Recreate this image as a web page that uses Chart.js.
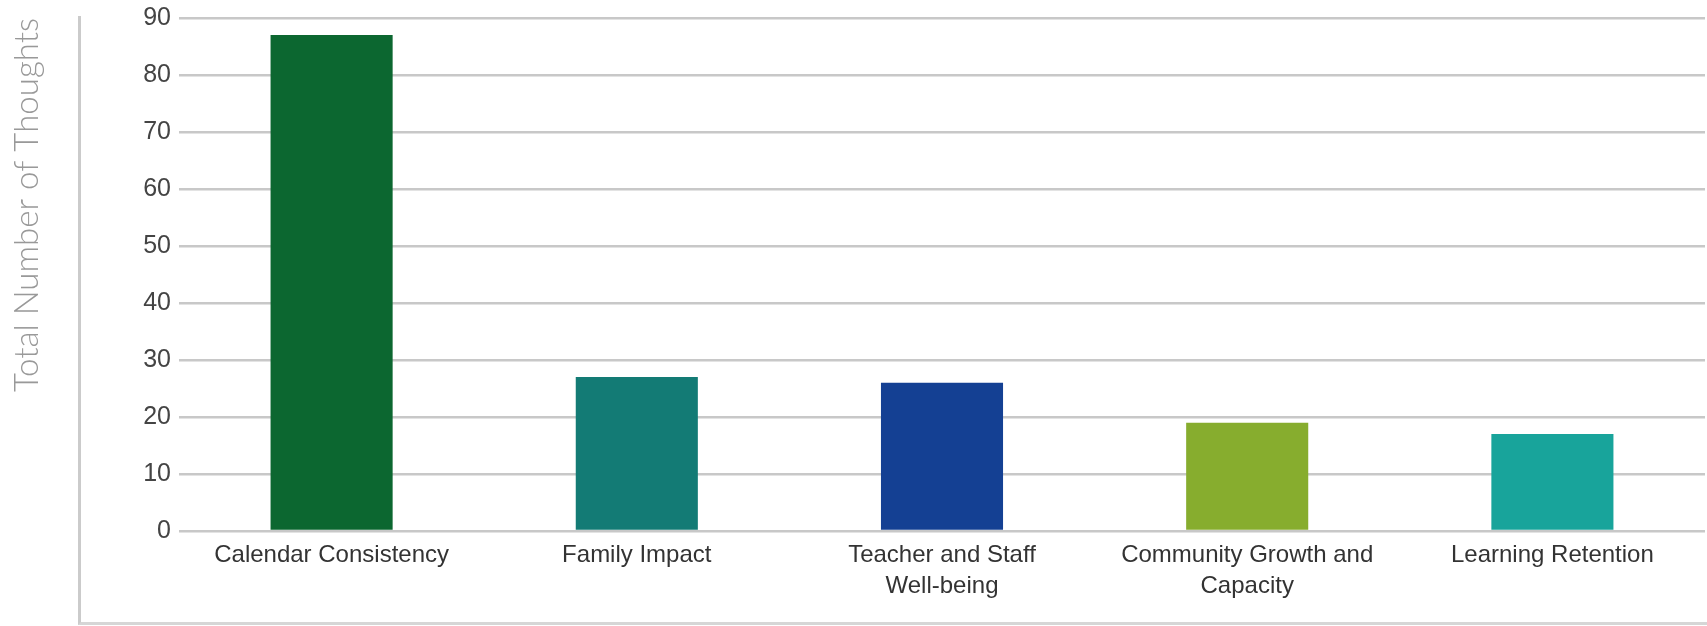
<!DOCTYPE html>
<html>
<head>
<meta charset="utf-8">
<script src="https://cdn.jsdelivr.net/npm/chart.js@4"></script>
<style>
    html, body { margin: 0; padding: 0; background: #ffffff; }
    #wrap { position: relative; width: 1707px; height: 626px; }
    #frame {
        position: absolute; left: 78px; top: 16px; right: 0; bottom: 1px;
        border-left: 3px solid #cbcbcb; border-bottom: 3px solid #d6d6d6;
        pointer-events: none;
    }
</style>
</head>
<body>
<div id="wrap">
    <canvas id="thoughtsChart" width="1707" height="626"></canvas>
    <div id="frame"></div>
</div>
<script>
// Chart data
const categories = [
    'Calendar Consistency',
    'Family Impact',
    ['Teacher and Staff', 'Well-being'],
    ['Community Growth and', 'Capacity'],
    'Learning Retention'
];
const thoughtCounts = [87, 27, 26, 19, 17];
const barColors = ['#0c6730', '#137b75', '#144093', '#87ad2e', '#18a49b'];
const yTicks = [0, 10, 20, 30, 40, 50, 60, 70, 80, 90];

const thoughtsChart = new Chart(document.getElementById('thoughtsChart'), {
    type: 'bar',
    data: {
        labels: categories,
        datasets: [{
            label: 'Total Number of Thoughts',
            data: thoughtCounts,
            backgroundColor: barColors,
            borderWidth: 0,
            categoryPercentage: 1,
            barPercentage: 0.4
        }]
    },
    options: {
        responsive: false,
        animation: false,
        layout: {
            padding: { top: 18, right: 2, left: 0, bottom: 0 }
        },
        plugins: {
            legend: { display: false },
            tooltip: { enabled: false }
        },
        scales: {
            x: {
                grid: { display: false },
                border: { display: false },
                ticks: {
                    color: '#333333',
                    padding: 1,
                    maxRotation: 0,
                    autoSkip: false,
                    font: { family: "'Liberation Sans', Arial, sans-serif", size: 24, lineHeight: 1.3 }
                },
                afterFit: (axis) => { axis.height = 95; }
            },
            y: {
                min: 0,
                max: 90,
                afterBuildTicks: (axis) => { axis.ticks = yTicks.map(v => ({ value: v })); },
                grid: {
                    color: '#c8c8c8',
                    lineWidth: 2.5,
                    drawTicks: false
                },
                border: { display: false },
                ticks: {
                    color: '#444444',
                    padding: 8,
                    font: { family: "'Liberation Sans', Arial, sans-serif", size: 25, lineHeight: 1 }
                },
                title: {
                    display: true,
                    text: 'Total Number of Thoughts',
                    align: 'end',
                    color: '#999999',
                    padding: { top: 8, bottom: 0 },
                    font: { family: 'Lato', weight: 300, size: 33 }
                },
                afterFit: (axis) => {
                    axis.width = 179;
                    axis.paddingTop = 0;
                }
            }
        }
    }
});
</script>
</body>
</html>
